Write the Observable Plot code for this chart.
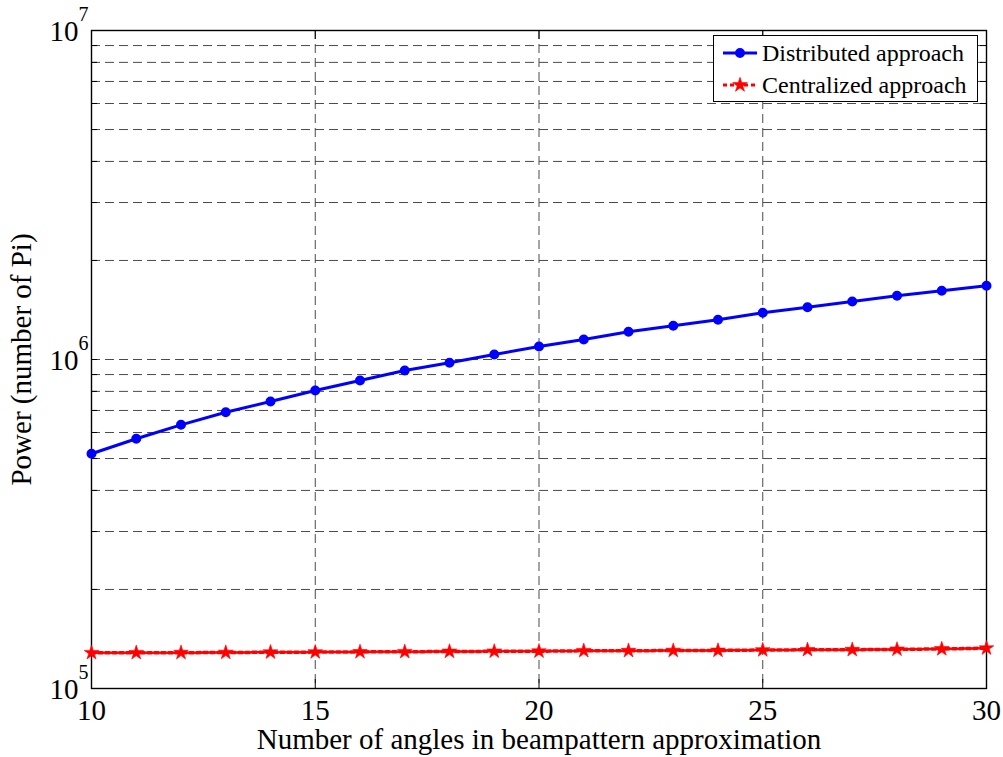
<!DOCTYPE html>
<html><head><meta charset="utf-8">
<script src="https://cdn.jsdelivr.net/npm/d3@7"></script>
<script src="https://cdn.jsdelivr.net/npm/@observablehq/plot@0.6"></script>
<style>
body{margin:0;background:#fff;}
#wrap{position:relative;width:1003px;height:757px;font-family:"Liberation Serif","Times New Roman",serif;}
#legend{position:absolute;left:713px;top:35px;width:263px;height:65px;border:1px solid #000;background:#fff;font-size:24px;}
#legend .row{position:absolute;left:0;height:30px;}
#legend .row span{position:absolute;left:48px;white-space:nowrap;line-height:30px;top:0;}
#legend svg{position:absolute;left:0;top:0;}
</style></head><body><div id="wrap"></div>
<script>
const angles = [10,11,12,13,14,15,16,17,18,19,20,21,22,23,24,25,26,27,28,29,30];
const distributed = [516900,574100,633000,691500,745300,805000,863700,926100,977200,1035600,1095000,1150000,1214000,1266000,1320000,1387000,1442000,1501000,1562000,1618000,1675000];
const centralized = [128400,128400,128500,128600,128900,129000,129200,129300,129600,129700,129800,130200,130300,130400,130500,130900,131100,131200,131500,131900,132600];
const seriesNames = ["Distributed approach","Centralized approach"];
const xTicks = [10,15,20,25,30];
const xDomain = [10,30];
const yDomain = [1e5,1e7];
const yMajor = [1e5,1e6,1e7];
const yMinor = [2e5,3e5,4e5,5e5,6e5,7e5,8e5,9e5,2e6,3e6,4e6,5e6,6e6,7e6,8e6,9e6];
const xLabel = "Number of angles in beampattern approximation";
const yLabel = "Power (number of Pi)";

const dist = angles.map((a,i)=>({x:a, y:distributed[i]}));
const cent = angles.map((a,i)=>({x:a, y:centralized[i]}));
const yAll = yMajor.concat(yMinor);

const gridStyle = {stroke:"#4a4a4a", strokeOpacity:1, strokeWidth:1, strokeDasharray:"9,5"};
const tickLen = 6;

const chart = Plot.plot({
  width:1003, height:757,
  marginLeft:91, marginRight:17, marginTop:30, marginBottom:69,
  style:{fontFamily:"'Liberation Serif','Times New Roman',serif", fontSize:"29px", color:"#000", background:"#fff", overflow:"visible"},
  x:{domain:xDomain},
  y:{type:"log", domain:yDomain},
  marks:[
    Plot.gridX(xTicks, gridStyle),
    Plot.gridY(yAll, gridStyle),
    Plot.ruleY(yAll, {y:d=>d, x1:xDomain[0], x2:xDomain[0], insetRight:-tickLen, stroke:"#000"}),
    Plot.ruleY(yAll, {y:d=>d, x1:xDomain[1], x2:xDomain[1], insetLeft:-tickLen, stroke:"#000"}),
    Plot.ruleX(xTicks, {x:d=>d, y1:yDomain[0], y2:yDomain[0], insetTop:-9, stroke:"#000"}),
    Plot.ruleX(xTicks, {x:d=>d, y1:yDomain[1], y2:yDomain[1], insetBottom:-9, stroke:"#000"}),
    Plot.frame({stroke:"#000", strokeWidth:1.4}),
    Plot.axisX(xTicks, {tickSize:0, tickPadding:11, fontSize:29, label:xLabel, labelAnchor:"center", labelOffset:60, labelArrow:"none"}),
    Plot.axisY(yMajor, {tickSize:0, tickPadding:3, fontSize:29, tickFormat:d=>"10^"+Math.round(Math.log10(d)), label:yLabel, labelAnchor:"center", labelOffset:81, labelArrow:"none"}),
    Plot.line(dist, {x:"x", y:"y", stroke:"#0000ff", strokeWidth:3}),
    Plot.dot(dist, {x:"x", y:"y", r:4, fill:"#0000ff", stroke:"#0000ff", strokeWidth:2}),
    Plot.line(cent, {x:"x", y:"y", stroke:"#ff0000", strokeWidth:3.5, strokeDasharray:"4,3"}),
    Plot.dot(cent, {x:"x", y:"y", symbol:"star", r:4.6, fill:"#ff0000", stroke:"#ff0000", strokeWidth:0.6})
  ]
});
document.getElementById("wrap").appendChild(chart);

// superscript exponents on y tick labels
d3.select(chart).selectAll('g[aria-label="y-axis tick label"] text').each(function(){
  const t = d3.select(this);
  const s = t.text();
  if (s.indexOf("^")<0) return;
  const [base, exp] = s.split("^");
  t.text(base).attr("dy","1px");
  t.append("tspan").attr("dy","-20px").attr("font-size","20px").text(exp);
});

// legend
const legend = d3.select("#wrap").append("div").attr("id","legend");
const rows = [
  {name:seriesNames[0], color:"#0000ff", dash:null, symbol:d3.symbolCircle, size:Math.PI*16, top:2},
  {name:seriesNames[1], color:"#ff0000", dash:"4,3", symbol:d3.symbolStar, size:Math.PI*4.6*4.6, top:34}
];
rows.forEach(r=>{
  const row = legend.append("div").attr("class","row").style("top", r.top+"px").style("width","263px");
  const svg = row.append("svg").attr("width",46).attr("height",30);
  svg.append("line").attr("x1",9).attr("x2",43).attr("y1",15).attr("y2",15)
    .attr("stroke",r.color).attr("stroke-width",3).attr("stroke-dasharray",r.dash);
  svg.append("path").attr("transform","translate(26,15)").attr("d",d3.symbol(r.symbol,r.size)())
    .attr("fill",r.color).attr("stroke",r.color).attr("stroke-width", r.symbol===d3.symbolCircle?2:0.6);
  row.append("span").text(r.name);
});
</script>
</body></html>
